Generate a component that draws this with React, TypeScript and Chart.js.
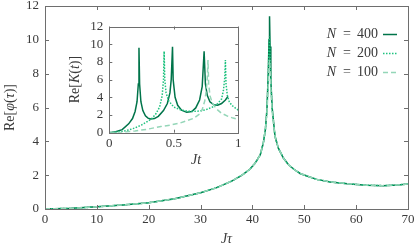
import React, { useEffect, useRef } from 'react';
import { Chart, registerables } from 'chart.js';
Chart.register(...registerables);

const FONT = '"Liberation Serif", serif';
const TXT = '#3a3a3a';
const FRAME = '#6e6e6e';
Chart.defaults.font.family = FONT;

const seriesLabels = ['400', '200', '100'];
const seriesColors = ['#00744a', '#1fc27f', '#94d6b8'];

// Main panel: Re[phi(tau)] vs J tau
const mainX400 = [0, 5, 10, 15, 20, 25, 30, 33, 36, 38, 39.5, 40.5, 41.5, 42.1, 42.5, 42.8, 43.05, 43.2, 43.3, 43.4, 43.55, 43.8, 44.35, 45, 46, 47, 48, 49.2, 50.5, 52.4, 55, 58.8, 62, 65.2, 68, 70];
const mainY400 = [0, 0.04, 0.13, 0.24, 0.37, 0.6, 0.96, 1.25, 1.65, 2.0, 2.35, 2.7, 3.2, 3.9, 4.7, 5.9, 8.0, 10.0, 11.4, 9.6, 7.6, 6.0, 4.3, 3.6, 3.0, 2.6, 2.35, 2.1, 1.95, 1.75, 1.6, 1.48, 1.41, 1.38, 1.42, 1.48];
const mainX200 = [0, 5, 10, 15, 20, 25, 30, 33, 36, 38, 39.5, 40.5, 41.5, 42.1, 42.5, 42.8, 43.05, 43.2, 43.3, 43.4, 43.55, 43.8, 44.35, 45, 46, 47, 48, 49.2, 50.5, 52.4, 55, 58.8, 62, 65.2, 68, 70];
const mainY200 = [0, 0.04, 0.13, 0.24, 0.37, 0.6, 0.96, 1.25, 1.65, 2.0, 2.35, 2.7, 3.2, 3.9, 4.7, 5.8, 7.8, 9.6, 10.2, 9.1, 7.5, 5.9, 4.3, 3.6, 3.0, 2.6, 2.35, 2.1, 1.95, 1.75, 1.6, 1.48, 1.41, 1.38, 1.42, 1.48];
const mainX100 = [0, 5, 10, 15, 20, 25, 30, 33, 36, 38, 39.5, 40.5, 41.5, 42.1, 42.5, 42.8, 43.05, 43.2, 43.3, 43.4, 43.55, 43.8, 44.35, 45, 46, 47, 48, 49.2, 50.5, 52.4, 55, 58.8, 62, 65.2, 68, 70];
const mainY100 = [0, 0.04, 0.13, 0.24, 0.37, 0.6, 0.96, 1.25, 1.65, 2.0, 2.35, 2.7, 3.2, 3.9, 4.7, 5.7, 7.3, 8.4, 8.8, 8.3, 7.1, 5.8, 4.3, 3.6, 3.0, 2.6, 2.35, 2.1, 1.95, 1.75, 1.6, 1.48, 1.41, 1.38, 1.42, 1.48];

// Inset: Re[K(t)] vs J t
const insetX400 = [0, 0.05, 0.1, 0.15, 0.18, 0.2, 0.215, 0.225, 0.23, 0.235, 0.245, 0.26, 0.28, 0.3, 0.32, 0.35, 0.38, 0.42, 0.45, 0.47, 0.48, 0.49, 0.495, 0.51, 0.53, 0.56, 0.6, 0.64, 0.67, 0.7, 0.72, 0.735, 0.745, 0.76, 0.78, 0.81, 0.84, 0.87, 0.9, 0.92];
const insetY400 = [0, 0.1, 0.35, 1.0, 1.6, 2.4, 3.5, 5.5, 9.6, 5.5, 3.5, 2.5, 1.9, 1.65, 1.55, 1.6, 1.85, 2.5, 3.3, 4.5, 6.0, 9.7, 6.0, 4.0, 3.1, 2.55, 2.3, 2.4, 2.8, 3.7, 5.2, 9.2, 5.5, 4.2, 3.5, 3.15, 3.1, 3.3, 3.7, 4.1];
const insetX200 = [0, 0.1, 0.15, 0.2, 0.25, 0.3, 0.33, 0.36, 0.39, 0.41, 0.42, 0.425, 0.43, 0.44, 0.46, 0.5, 0.55, 0.6, 0.65, 0.7, 0.75, 0.8, 0.84, 0.87, 0.885, 0.895, 0.9, 0.905, 0.915, 0.93, 0.95, 0.98, 1.0];
const insetY200 = [0, 0.15, 0.3, 0.55, 0.87, 1.3, 1.6, 2.1, 2.9, 4.2, 6.0, 9.2, 6.0, 4.5, 3.6, 2.9, 2.6, 2.45, 2.4, 2.45, 2.6, 2.9, 3.3, 3.8, 4.8, 6.2, 8.2, 5.5, 4.2, 3.5, 3.1, 2.75, 2.55];
const insetX100 = [0, 0.1, 0.2, 0.29, 0.4, 0.47, 0.55, 0.6, 0.65, 0.7, 0.72, 0.74, 0.752, 0.76, 0.765, 0.77, 0.78, 0.8, 0.83, 0.87, 0.92, 0.96, 1.0];
const insetY100 = [0, 0.05, 0.2, 0.38, 0.7, 0.85, 1.1, 1.35, 1.6, 2.1, 2.6, 3.6, 4.8, 6.3, 8.2, 5.6, 4.2, 3.3, 2.7, 2.2, 1.85, 1.65, 1.5];

const mainXTicks = [0, 10, 20, 30, 40, 50, 60, 70];
const yTicks = [0, 2, 4, 6, 8, 10, 12];
const insetXTicks = [0, 0.5, 1];

type Seg = { t: string; i?: boolean; g?: number };

function drawRich(ctx: CanvasRenderingContext2D, segs: Seg[], x: number, y: number, size: number, rotate: boolean, align: string) {
  ctx.save();
  ctx.translate(x, y);
  if (rotate) ctx.rotate(-Math.PI / 2);
  ctx.fillStyle = TXT;
  ctx.textBaseline = 'middle';
  ctx.textAlign = 'left';
  const fonts = segs.map((s) => `${s.i ? 'italic ' : ''}${size}px ${FONT}`);
  const widths = segs.map((s, k) => {
    ctx.font = fonts[k];
    return ctx.measureText(s.t).width + (s.g || 0);
  });
  const total = widths.reduce((a, b) => a + b, 0);
  let cx = align === 'center' ? -total / 2 : align === 'right' ? -total : 0;
  segs.forEach((s, k) => {
    ctx.font = fonts[k];
    ctx.fillText(s.t, cx, 0);
    cx += widths[k];
  });
  ctx.restore();
}

function frameTicks(chart: any, xt: number[], yt: number[], len: number) {
  const ctx = chart.ctx as CanvasRenderingContext2D;
  const { left, right, top, bottom } = chart.chartArea;
  const xs = chart.scales.x;
  const ys = chart.scales.y;
  ctx.save();
  ctx.strokeStyle = FRAME;
  ctx.lineWidth = 1;
  ctx.beginPath();
  xt.forEach((v) => {
    const px = Math.round(xs.getPixelForValue(v)) + 0.5;
    ctx.moveTo(px, bottom);
    ctx.lineTo(px, bottom - len);
    ctx.moveTo(px, top);
    ctx.lineTo(px, top + len);
  });
  yt.forEach((v) => {
    const py = Math.round(ys.getPixelForValue(v)) + 0.5;
    ctx.moveTo(left, py);
    ctx.lineTo(left + len, py);
    ctx.moveTo(right, py);
    ctx.lineTo(right - len, py);
  });
  ctx.stroke();
  ctx.strokeRect(Math.round(left) + 0.5, Math.round(top) + 0.5, Math.round(right - left), Math.round(bottom - top));
  ctx.restore();
}

function pts(xs: number[], ys: number[]) {
  return xs.map((x, i) => ({ x, y: ys[i] }));
}

const dashes = [[] as number[], [1.5, 1.5], [5, 3]];

function axisCommon(min: number, max: number, step: number, pad: number, fit: (s: any) => void) {
  return {
    type: 'linear' as const,
    min,
    max,
    ticks: {
      stepSize: step,
      padding: pad,
      color: TXT,
      font: { family: FONT, size: 13, lineHeight: 1 },
      callback: (v: number) => String(Math.round(v * 100) / 100),
    },
    grid: { display: false, drawTicks: false },
    border: { display: false },
    afterFit: (s: any) => {
      fit(s);
      s.paddingTop = 0;
      s.paddingBottom = 0;
      s.paddingLeft = 0;
      s.paddingRight = 0;
    },
  };
}

export default function App() {
  const mainRef = useRef<HTMLCanvasElement | null>(null);
  const insetRef = useRef<HTMLCanvasElement | null>(null);

  useEffect(() => {
    document.body.style.margin = '0';
    const mainData = [
      { x: mainX400, y: mainY400 },
      { x: mainX200, y: mainY200 },
      { x: mainX100, y: mainY100 },
    ];
    const insetData = [
      { x: insetX400, y: insetY400 },
      { x: insetX200, y: insetY200 },
      { x: insetX100, y: insetY100 },
    ];
    const mkSets = (arr: { x: number[]; y: number[] }[]) =>
      arr.map((d, k) => ({
        label: 'N = ' + seriesLabels[k],
        data: pts(d.x, d.y),
        borderColor: seriesColors[k],
        backgroundColor: seriesColors[k],
        borderWidth: 1.5,
        borderDash: dashes[k],
        pointRadius: 0,
        tension: 0,
        fill: false,
        order: 3 - k,
      }));

    const mainPlugin = {
      id: 'mainDeco',
      afterDraw(chart: any) {
        const ctx = chart.ctx as CanvasRenderingContext2D;
        frameTicks(chart, mainXTicks, yTicks, 4);
        const { left, right, top, bottom } = chart.chartArea;
        drawRich(ctx, [{ t: 'J', i: true }, { t: 'τ', i: true }], (left + right) / 2, 239, 14, false, 'center');
        drawRich(ctx, [{ t: 'Re[' }, { t: 'φ', i: true }, { t: '(' }, { t: 'τ', i: true }, { t: ')]' }], 10, (top + bottom) / 2, 14, true, 'center');
        // legend
        const rows = [34, 53, 72];
        seriesLabels.forEach((lab, k) => {
          drawRich(ctx, [{ t: 'N', i: true, g: 7 }, { t: '=', g: 6 }, { t: lab }], 378, rows[k], 14, false, 'right');
          ctx.save();
          ctx.strokeStyle = seriesColors[k];
          ctx.lineWidth = 1.5;
          ctx.setLineDash(dashes[k]);
          ctx.beginPath();
          ctx.moveTo(383, rows[k] + 0.5);
          ctx.lineTo(397, rows[k] + 0.5);
          ctx.stroke();
          ctx.restore();
        });
      },
    };

    const insetPlugin = {
      id: 'insetDeco',
      afterDraw(chart: any) {
        const ctx = chart.ctx as CanvasRenderingContext2D;
        frameTicks(chart, insetXTicks, yTicks, 3);
        const { top, bottom } = chart.chartArea;
        drawRich(ctx, [{ t: 'J', i: true }, { t: 't', i: true }], 196, 160, 14, false, 'center');
        drawRich(ctx, [{ t: 'Re[' }, { t: 'K', i: true }, { t: '(' }, { t: 't', i: true }, { t: ')]' }], 75, (top + bottom) / 2, 14, true, 'center');
      },
    };

    const main = new Chart(mainRef.current as HTMLCanvasElement, {
      type: 'line',
      data: { datasets: mkSets(mainData) as any },
      options: {
        animation: false,
        responsive: false,
        devicePixelRatio: 1,
        layout: { padding: { left: 0, right: 7, top: 6, bottom: 0 } },
        plugins: { legend: { display: false }, tooltip: { enabled: false } },
        scales: {
          x: axisCommon(0, 70, 10, 4, (s: any) => { s.height = 37; }),
          y: axisCommon(0, 12, 2, 6, (s: any) => { s.width = 45; }),
        } as any,
      },
      plugins: [mainPlugin],
    });

    const inset = new Chart(insetRef.current as HTMLCanvasElement, {
      type: 'line',
      data: { datasets: mkSets(insetData) as any },
      options: {
        animation: false,
        responsive: false,
        devicePixelRatio: 1,
        layout: { padding: { left: 79.3, right: 176.7, top: 26.5, bottom: 93.3 } },
        plugins: { legend: { display: false }, tooltip: { enabled: false } },
        scales: {
          x: axisCommon(0, 1, 0.5, 4, (s: any) => { s.height = 20; }),
          y: axisCommon(0, 12, 2, 6, (s: any) => { s.width = 30; }),
        } as any,
      },
      plugins: [insetPlugin],
    });

    return () => {
      main.destroy();
      inset.destroy();
    };
  }, []);

  return (
    <div style={{ position: 'fixed', left: 0, top: 0, width: 415, height: 246, background: '#fff' }}>
      <canvas ref={mainRef} width={415} height={246} style={{ position: 'absolute', left: 0, top: 0 }} />
      <canvas ref={insetRef} width={415} height={246} style={{ position: 'absolute', left: 0, top: 0 }} />
    </div>
  );
}
